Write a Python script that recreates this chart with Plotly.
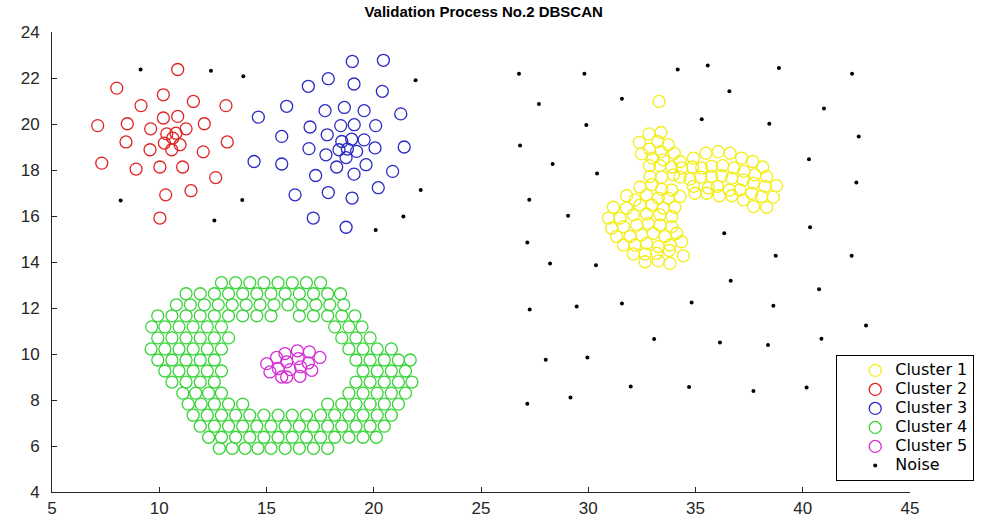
import plotly.graph_objects as go

# Cluster 1 (yellow)
c1_x = [33.30,
        32.83, 33.39, 32.38, 33.24, 33.73, 32.85, 33.39, 34.01, 32.49, 33.00, 33.50, 34.28,
        32.85, 33.34, 33.89, 32.88, 33.42, 33.97,
        34.90, 35.49, 36.06, 36.61, 37.15, 37.67, 38.13,
        34.35, 34.87, 35.29, 35.75, 36.27, 36.79, 37.26, 37.77, 38.32,
        34.28, 34.74, 35.24, 35.75, 36.22, 36.69, 37.23, 37.70, 38.24, 38.78,
        34.90, 35.60, 36.02, 36.58, 37.07, 37.62, 38.08, 38.63,
        34.98, 35.52, 36.11, 36.69, 37.23, 37.70, 38.32,
        32.41, 32.96, 33.42, 33.89,
        31.79, 32.18, 32.72, 33.27, 33.73, 34.28,
        31.17, 31.79, 32.41, 32.96, 33.50, 34.04,
        30.94, 31.48, 32.10, 32.72, 33.34, 33.89,
        31.09, 31.64, 32.26, 32.80, 33.34, 33.89,
        31.32, 31.95, 32.49, 33.03, 33.58, 34.12,
        31.64, 32.18, 32.72, 33.27, 33.81, 34.35,
        32.10, 32.65, 33.19, 33.78, 34.43,
        32.65, 33.27, 33.81]
c1_y = [20.98,
        19.57, 19.63, 19.20, 19.24, 19.10, 18.91, 18.80, 18.73, 18.70, 18.52, 18.44, 18.37,
        18.19, 18.19, 18.13, 17.72, 17.69, 17.79,
        18.52, 18.73, 18.80, 18.73, 18.52, 18.37, 18.13,
        18.09, 18.13, 18.09, 18.16, 18.19, 18.09, 17.94, 17.79, 17.72,
        17.69, 17.60, 17.69, 17.72, 17.75, 17.65, 17.57, 17.43, 17.29, 17.32,
        17.29, 17.22, 17.29, 17.13, 17.13, 16.99, 16.85, 16.82,
        16.99, 16.99, 16.88, 16.88, 16.70, 16.41, 16.38,
        17.26, 17.36, 17.16, 17.13,
        16.88, 16.70, 16.92, 16.78, 16.78, 16.85,
        16.38, 16.34, 16.48, 16.48, 16.34, 16.38,
        15.91, 15.91, 16.05, 16.09, 16.05, 15.98,
        15.47, 15.54, 15.61, 15.68, 15.61, 15.54,
        15.11, 15.11, 15.18, 15.25, 15.11, 15.25,
        14.74, 14.74, 14.81, 14.67, 14.74, 14.88,
        14.35, 14.35, 14.38, 14.50, 14.27,
        14.01, 14.05, 13.94]

# Cluster 2 (red)
c2_x = [10.86, 8.02, 10.19, 11.59, 9.15, 13.11, 10.19, 10.86, 7.13, 8.51, 12.10, 9.60, 11.25,
        10.35, 10.78, 10.63, 8.45, 10.24, 10.97, 13.17, 9.57, 10.58, 12.05, 7.32, 8.92, 10.03,
        11.09, 12.63, 10.30, 11.48, 10.03]
c2_y = [22.37, 21.56, 21.27, 20.98, 20.80, 20.80, 20.26, 20.33, 19.93, 20.01, 20.01, 19.79, 19.79,
        19.57, 19.60, 19.39, 19.22, 19.17, 19.10, 19.22, 18.88, 18.88, 18.79, 18.30, 18.04, 18.13,
        18.13, 17.67, 16.92, 17.10, 15.91]

# Cluster 3 (blue)
c3_x = [19.00, 20.45, 17.88, 16.95, 19.08, 20.40, 15.94, 14.62, 17.73, 18.63, 19.55, 21.26,
        17.03, 18.46, 19.09, 20.09, 15.71, 17.83, 18.51, 18.97, 19.55, 16.98, 18.38, 18.77,
        19.20, 20.06, 21.42, 17.77, 18.71, 14.42, 15.71, 18.27, 19.64, 17.29, 19.08, 20.88,
        20.21, 16.33, 17.88, 18.99, 17.18, 18.71]
c3_y = [22.72, 22.77, 21.97, 21.64, 21.74, 21.42, 20.77, 20.30, 20.58, 20.72, 20.58, 20.44,
        19.87, 19.93, 19.97, 19.93, 19.46, 19.53, 19.24, 19.34, 19.31, 18.93, 18.88, 18.91,
        18.81, 18.96, 19.00, 18.66, 18.54, 18.37, 18.26, 18.13, 18.23, 17.76, 17.82, 17.94,
        17.23, 16.92, 17.02, 16.78, 15.91, 15.51]

# Cluster 4 (green ring), listed row by row from top to bottom
c4_rows = [
    (13.10, [12.90, 13.56, 14.22, 14.88, 15.54, 16.20, 16.86, 17.52]),
    (12.62, [11.25, 11.91, 12.57, 13.23, 13.89, 14.55, 15.21, 15.87, 16.53, 17.19, 17.85,
             18.45]),
    (12.14, [10.80, 11.45, 12.10, 12.75, 13.40, 14.05, 14.70, 15.35, 16.00, 16.65, 17.30,
             17.95, 18.60]),
    (11.66, [9.93, 10.59, 11.25, 11.91, 12.57, 13.23, 13.89, 14.55, 15.21, 16.53, 17.19,
             17.85, 18.51, 19.12]),
    (11.18, [9.65, 10.26, 10.92, 11.58, 12.24, 12.90, 18.18, 18.84, 19.45]),
    (10.70, [9.93, 10.59, 11.25, 11.91, 12.57, 13.23, 18.51, 19.17, 19.83]),
    (10.22, [9.62, 10.26, 10.92, 11.58, 12.24, 12.90, 18.84, 19.50, 20.16, 20.82]),
    (9.74, [9.93, 10.59, 11.25, 11.91, 12.57, 19.17, 19.83, 20.49, 21.15, 21.70]),
    (9.26, [10.26, 10.92, 11.58, 12.24, 12.90, 19.50, 20.16, 20.82, 21.48]),
    (8.78, [10.59, 11.25, 11.91, 12.57, 19.17, 19.83, 20.49, 21.15, 21.78]),
    (8.30, [11.10, 11.70, 12.30, 12.90, 18.84, 19.50, 20.16, 20.82, 21.48]),
    (7.82, [11.35, 11.95, 12.57, 13.23, 13.89, 17.85, 18.51, 19.17, 19.83, 20.49, 21.15]),
    (7.34, [11.58, 12.24, 12.90, 13.56, 14.22, 14.88, 15.54, 16.20, 16.86, 17.52, 18.18,
            18.84, 19.50, 20.16, 20.82]),
    (6.86, [11.91, 12.57, 13.23, 13.89, 14.55, 15.21, 15.87, 16.53, 17.19, 17.85, 18.51,
            19.17, 19.83, 20.49]),
    (6.38, [12.30, 12.90, 13.56, 14.22, 14.88, 15.54, 16.20, 16.86, 17.52, 18.18, 18.84,
            19.50, 20.12]),
    (5.90, [12.80, 13.40, 14.00, 14.60, 15.21, 15.87, 16.53, 17.19, 17.85]),
]
c4_x = [x for _, xs in c4_rows for x in xs]
c4_y = [y for y, xs in c4_rows for _ in xs]

# Cluster 5 (magenta core)
c5_x = [15.86, 16.44, 17.00, 17.49, 15.94, 16.48, 16.95, 16.10, 16.59, 17.11, 16.56, 15.94,
        15.01, 15.47, 15.16, 15.71, 15.55]
c5_y = [10.02, 10.14, 10.09, 9.85, 9.66, 9.80, 9.61, 9.32, 9.44, 9.29, 9.03, 9.00,
        9.58, 9.85, 9.22, 9.00, 9.37]

# Noise points
noise_x = [9.13, 12.41, 13.92, 8.20, 13.87, 12.57,
           21.95, 22.19, 21.38, 20.09,
           26.77, 29.82, 34.17, 27.70, 31.57, 29.91, 26.82, 28.34, 30.41, 27.25, 29.06, 27.16,
           35.57, 38.89, 42.30, 36.58, 40.99, 35.29, 38.44, 42.61, 40.29, 42.50, 36.34, 40.34,
           28.22, 30.36, 27.27, 29.46, 31.57, 33.07, 28.02, 29.96, 31.98, 34.70, 29.17, 27.16,
           38.74, 42.28, 36.64, 40.76, 34.82, 38.63, 42.95, 36.14, 38.38, 40.87, 37.70, 40.18]
noise_y = [22.37, 22.32, 22.08, 16.67, 16.70, 15.80,
           21.90, 17.13, 15.98, 15.39,
           22.18, 22.18, 22.37, 20.87, 21.10, 19.96, 19.06, 18.26, 17.85, 16.71, 16.01, 14.85,
           22.54, 22.44, 22.18, 21.42, 20.67, 20.21, 20.01, 19.46, 18.47, 17.46, 15.25, 15.51,
           13.94, 13.86, 11.94, 12.06, 12.20, 10.65, 9.75, 9.85, 8.59, 8.56, 8.11, 7.84,
           14.27, 14.27, 13.18, 12.81, 12.24, 12.10, 11.24, 10.50, 10.39, 10.66, 8.39, 8.54]

x_ticks = [5, 10, 15, 20, 25, 30, 35, 40, 45]
y_ticks = [4, 6, 8, 10, 12, 14, 16, 18, 20, 22, 24]

clusters = [
    ("Cluster 1", c1_x, c1_y, "#f2ee1a"),
    ("Cluster 2", c2_x, c2_y, "#e02424"),
    ("Cluster 3", c3_x, c3_y, "#2a2ac4"),
    ("Cluster 4", c4_x, c4_y, "#38d438"),
    ("Cluster 5", c5_x, c5_y, "#d62ed6"),
]


def legend_label(text):
    # legend rows stay tight (small legend font) while the label text itself is larger
    return f"<span style='font-size:16px'>{text}</span>"


fig = go.Figure()
for name, xs, ys, col in clusters:
    fig.add_trace(go.Scatter(
        x=xs, y=ys, mode="markers", name=legend_label(name),
        marker=dict(symbol="circle-open", size=12, color=col, line=dict(width=1.3, color=col)),
    ))
fig.add_trace(go.Scatter(
    x=noise_x, y=noise_y, mode="markers", name=legend_label("Noise"),
    marker=dict(symbol="circle", size=4, color="#000000"),
))

sans = "Liberation Sans, Arial, sans-serif"
axis_font = dict(family=sans, size=17, color="#262626")
fig.update_layout(
    width=981, height=520,
    margin=dict(l=52, r=71, t=32, b=28, autoexpand=False),
    paper_bgcolor="white", plot_bgcolor="white",
    title=dict(text="<b>Validation Process No.2 DBSCAN</b>",
               font=dict(family=sans, size=15, color="#000"),
               x=0.493, xanchor="center", y=0.977, yanchor="middle", yref="container"),
    showlegend=True,
    legend=dict(x=0.914, xanchor="left", y=0.298, yanchor="top",
                bgcolor="white", bordercolor="#000", borderwidth=1,
                font=dict(family="DejaVu Sans, sans-serif", size=12, color="#000"),
                tracegroupgap=0, itemwidth=30, indentation=18),
    xaxis=dict(range=[5, 45], tickvals=x_ticks, showgrid=False, zeroline=False,
               showline=True, linecolor="#262626", linewidth=1, ticks="inside", ticklen=5,
               tickcolor="#262626", tickfont=axis_font, mirror=False, ticklabelstandoff=1),
    yaxis=dict(range=[4, 24], tickvals=y_ticks, showgrid=False, zeroline=False,
               showline=True, linecolor="#262626", linewidth=1, ticks="inside", ticklen=5,
               tickcolor="#262626", tickfont=axis_font, mirror=False, ticklabelstandoff=8),
)

fig.write_html("out.html")
